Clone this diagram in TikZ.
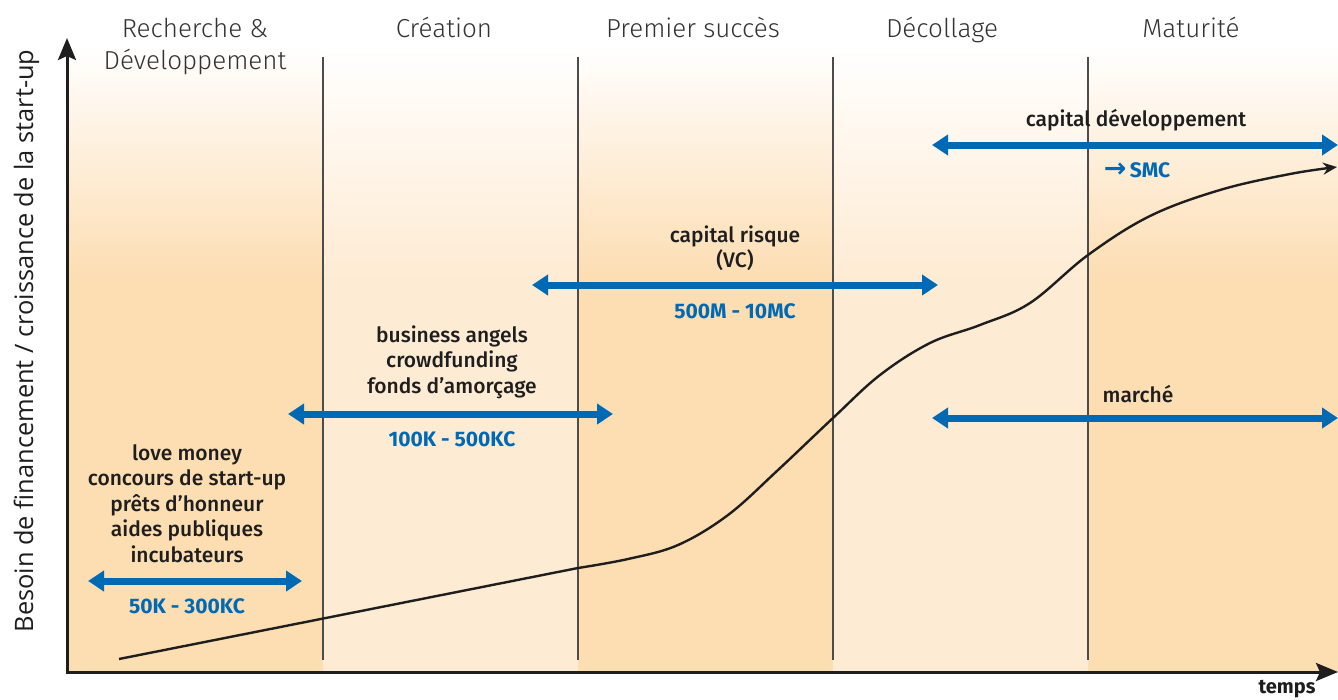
\documentclass[tikz,border=0pt]{standalone}
\usepackage{fontspec}
\setmainfont{Fira Sans}
\IfFontExistsTF{Fira Sans Light}
  {\newfontfamily\phasefont{Fira Sans Light}}
  {\newfontfamily\phasefont{Fira Sans}}
\IfFontExistsTF{Fira Sans Medium}
  {\newfontfamily\labelfont{Fira Sans Medium}}
  {\newfontfamily\labelfont{Fira Sans}}
\newfontfamily\axislabelfont{Open Sans}
\newfontfamily\arrowglyphfont{DejaVu Sans}
\usetikzlibrary{arrows.meta}

\definecolor{phasedark}{HTML}{FDDDB2}
\definecolor{phaselight}{HTML}{FEEBD3}
\definecolor{fundblue}{HTML}{0069B4}
\definecolor{ink}{HTML}{1E1E1E}
\definecolor{headgray}{HTML}{333333}

\begin{document}
\begin{tikzpicture}[x=1pt,y=-1pt,
  phasehead/.style={font=\phasefont\fontsize{26}{32}\selectfont, text=headgray, inner sep=0pt, anchor=base},
  fundlabel/.style={font=\labelfont\fontsize{21}{25.5}\selectfont, text=ink, align=center, inner sep=0pt, anchor=base},
  fundamount/.style={font=\bfseries\fontsize{21}{25}\selectfont, text=fundblue, inner sep=0pt},
  fundrange/.style={draw=fundblue, line width=7pt, {Triangle[width=20pt,length=16pt]}-{Triangle[width=20pt,length=16pt]}},
  axisline/.style={draw=ink, line width=3pt, {Stealth[length=22pt,width=18pt,inset=4pt]}-{Stealth[length=22pt,width=18pt,inset=4pt]}},
  divider/.style={draw=black!70, line width=1.2pt},
  growth/.style={draw=ink, line width=2.4pt, -{Stealth[length=14pt,width=12pt]}},
]
\useasboundingbox (0,0) rectangle (1338,699);

% phase bands, fading to white towards the top
\foreach \xa/\xb/\col in {67/323/phasedark, 323/578/phaselight, 578/833/phasedark, 833/1088/phaselight, 1088/1338/phasedark}{
  \shade[top color=white, bottom color=\col] (\xa,45) rectangle (\xb,280);
  \fill[\col] (\xa,279.5) rectangle (\xb,672);
}

% phase dividers
\foreach \x in {323,578,833,1088}
  \draw[divider] (\x,57) -- (\x,660);

% phase titles
\node[phasehead] (h1a) at (195,37) {Recherche \&};
\node[phasehead] (h1b) at (195,69) {Développement};
\node[phasehead] (h2) at (444,37) {Création};
\node[phasehead] (h3) at (693,37) {Premier succès};
\node[phasehead] (h4) at (942,37) {Décollage};
\node[phasehead] (h5) at (1191,37) {Maturité};

% axes
\coordinate (origin) at (67,672);
\coordinate (ytip) at (67,38);
\coordinate (xtip) at (1338,672);
\draw[axisline] (ytip) -- (origin) -- (xtip);
\node[rotate=90, anchor=base, inner sep=0pt, text=ink,
      font=\axislabelfont\fontsize{25.4}{30}\selectfont] (ylabel) at (33,341)
  {Besoin de financement / croissance de la start-up};
\node[anchor=base, inner sep=0pt, text=ink, font=\bfseries\fontsize{20}{24}\selectfont]
  (timelabel) at (1287,693) {temps};

% growth curve: linear start, then an S-shaped take-off
\draw[growth] (119,659) -- (578,568)
  plot[smooth, tension=0.6] coordinates {
  (578,568) (628,559) (678,545) (728,515) (778,470) (833,418) (880,375)
  (930,343) (980,325) (1030,303) (1088,255) (1150,216) (1220,190)
  (1290,174) (1337,167)};

% seed funding
\node[fundlabel] (seedtext) at (187,562)
  {love money\\concours de start-up\\prêts d’honneur\\aides publiques\\incubateurs};
\coordinate (seedL) at (88,581);
\coordinate (seedR) at (302,581);
\draw[fundrange] (seedL) -- (seedR);
\node[fundamount] (seedamount) at (187,606) {50K - 300KC};

% angels
\node[fundlabel] (angeltext) at (452,393)
  {business angels\\crowdfunding\\fonds d’amorçage};
\coordinate (angelL) at (288,414);
\coordinate (angelR) at (613,414);
\draw[fundrange] (angelL) -- (angelR);
\node[fundamount] (angelamount) at (452,439) {100K - 500KC};

% venture capital
\node[fundlabel] (vctext) at (735,267.5) {capital risque\\(VC)};
\coordinate (vcL) at (532,285);
\coordinate (vcR) at (938,285);
\draw[fundrange] (vcL) -- (vcR);
\node[fundamount] (vcamount) at (735,311) {500M - 10MC};

% development capital
\node[fundlabel] (devtext) at (1136,126) {capital développement};
\coordinate (devL) at (932,145);
\coordinate (devR) at (1338,145);
\draw[fundrange] (devL) -- (devR);
\node[fundamount] (devamount) at (1137,170)
  {{\arrowglyphfont\bfseries\fontsize{27}{27}\selectfont →}\,SMC};

% market
\node[fundlabel] (markettext) at (1138,402) {marché};
\coordinate (marketL) at (932,418);
\coordinate (marketR) at (1338,418);
\draw[fundrange] (marketL) -- (marketR);
\end{tikzpicture}
\end{document}
